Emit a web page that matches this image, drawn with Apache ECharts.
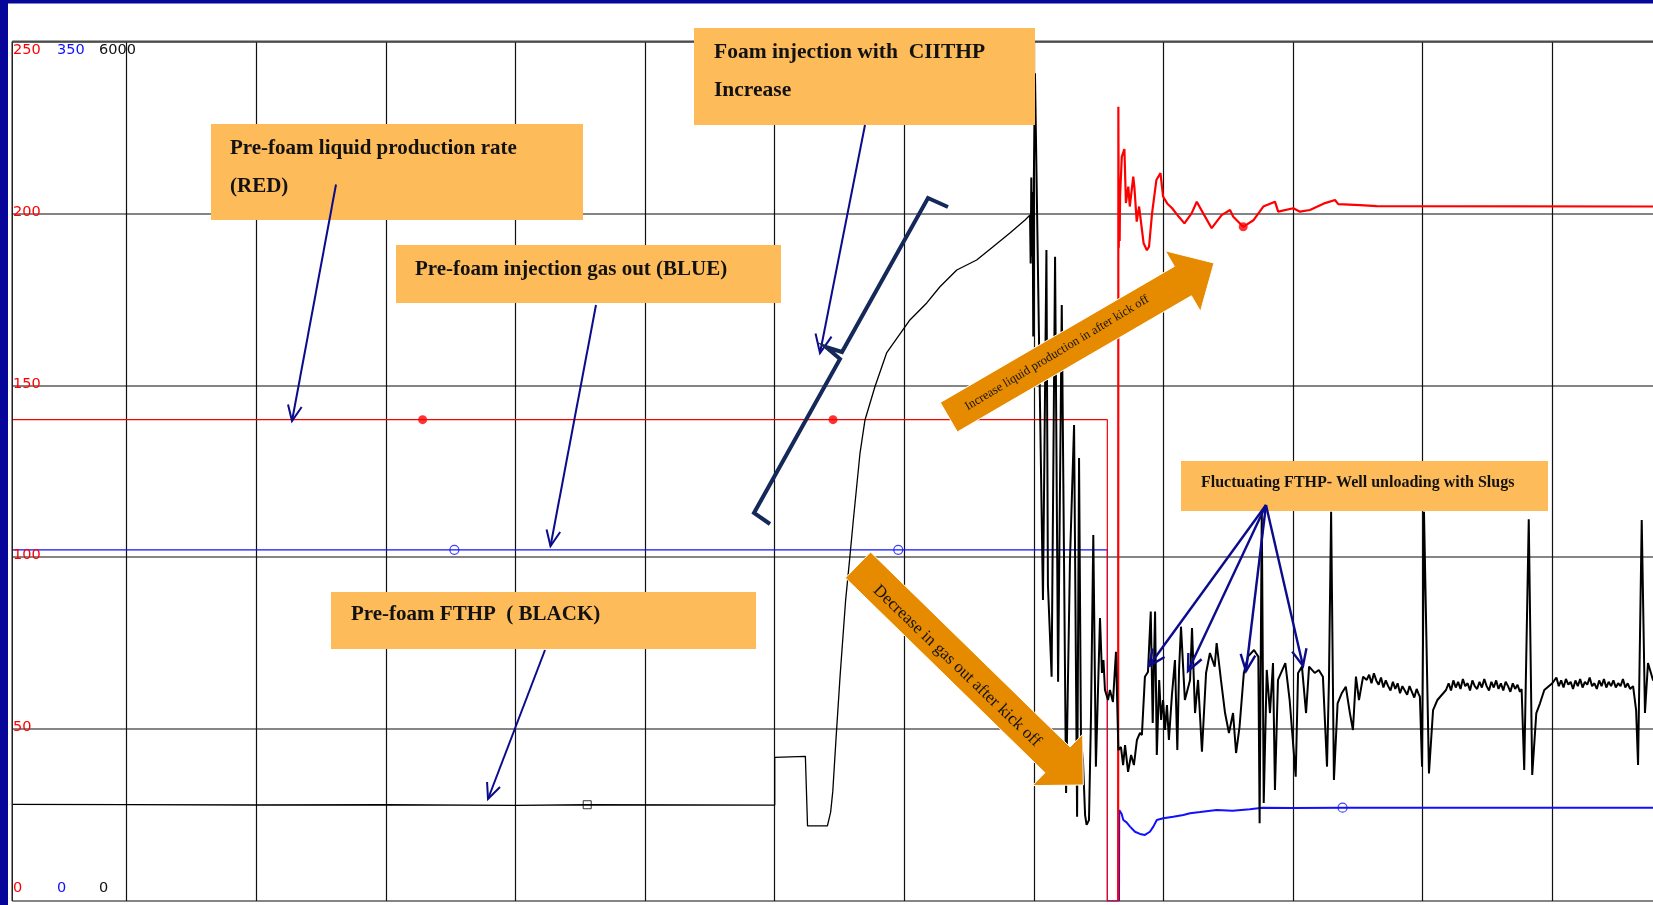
<!DOCTYPE html>
<html>
<head>
<meta charset="utf-8">
<script src="https://cdn.jsdelivr.net/npm/echarts@6/dist/echarts.min.js"></script>
<style>
  html, body { margin: 0; padding: 0; background: #ffffff; overflow: hidden; }
  #chart { width: 1653px; height: 905px; }
</style>
</head>
<body>
<div id="chart"></div>
<script>
// ---- scales (chart-recorder pens) ----
const redTicks = [0, 50, 100, 150, 200, 250];      // liquid rate pen
const blueTicks = [0, 350];                          // gas out pen
const blackTicks = [0, 6000];                        // FTHP pen
const timeMin = 0, timeMax = 780, timeStep = 60;     // minutes, one grid per hour

// ---- liquid production rate (red) ----
const liquidPre = [[7, 140], [197, 140], [387, 140], [514, 140], [514, 0], [519, 0]];
const liquidPost = [
  [519, 0], [519.1, 231], [519.3, 190], [519.5, 209], [519.7, 192], [519.9, 205],
  [520.7, 216.5], [521.9, 218.7], [522.6, 203], [523.7, 207.8], [524.4, 202], [526.0, 210.7],
  [526.5, 207.8], [527.6, 197.6], [528.7, 202], [529.5, 202.4], [530.8, 191.3], [532.3, 189.3],
  [533.3, 190.3], [534.7, 200], [536.7, 209.7], [538.6, 211.7], [539.8, 204.9], [541.7, 202.9],
  [544.0, 201.5], [547.1, 199], [549.7, 197.1], [553.0, 200], [555.4, 203.4], [558.4, 200],
  [562.3, 195.7], [566.9, 199.5], [570.8, 201], [572.3, 199], [576.9, 196.1], [581.6, 198],
  [586.2, 202], [591.6, 203.4], [593.1, 200.5], [600.1, 201.5], [603.2, 200.5], [607.8, 201],
  [614.8, 203], [619.4, 203.9], [620.9, 202.7], [631.0, 202.4], [638.7, 202.1], [780, 202]
];
const liquidMarks = [[197, 140], [387, 140], [576.9, 196.1]];

// ---- injection gas out (blue) ----
const gasPre = [[7, 143], [514, 143], [514, 0], [519.4, 0]];
const gasPost = [
  [519.4, 0], [519.5, 37], [519.9, 37.1], [520.6, 35.5], [521.4, 33], [522.9, 32], [524.5, 30.3],
  [526.8, 28.2], [529.1, 27.3], [531.4, 26.9], [533.7, 28.2], [535.3, 30.3], [536.9, 33],
  [539.9, 33.7], [544.5, 34.3], [549.2, 35], [552.3, 35.7], [557, 36.2], [564.6, 37.1],
  [572, 36.8], [580, 37.4], [585.8, 38], [600, 37.9], [622.9, 38], [780, 38]
];
const gasMarks = [[211.7, 143], [417.2, 143], [622.9, 38]];

// ---- flowing tubing head pressure (black) ----
const fthpPre = [
  [7, 675], [60, 673], [120, 670], [180, 672], [240, 668], [273, 672], [320, 670], [360, 669],
  [360, 1002], [374.2, 1010], [375.2, 524], [384.4, 524], [385.9, 620], [386.9, 767], [388.4, 1135],
  [390.3, 1577], [392.8, 2093], [394.7, 2387], [396.4, 2658], [399.5, 3127], [401.8, 3358],
  [406.4, 3590], [411.8, 3826], [422.6, 4056], [430.4, 4175], [436.5, 4288], [444.3, 4405],
  [453.5, 4475], [461.1, 4568], [468.9, 4663], [475.9, 4754], [478.2, 4789]
];
const fthpPost = [
  [478.2, 4789], [478.5, 4450], [478.8, 5050], [479.1, 4500], [479.4, 4950], [479.7, 3940],
  [480.0, 5080], [480.5, 5778], [484.2, 2101], [485.8, 4545], [486.5, 2206], [488.2, 1566],
  [489.8, 4498], [491.2, 1531], [492.9, 4160], [494.9, 754], [496.7, 2380], [498.6, 3323],
  [500.0, 588], [500.9, 3093], [501.8, 1124], [502.7, 984], [503.7, 600], [504.4, 531],
  [505.5, 565], [506.4, 1264], [507.5, 2555], [508.7, 938], [510.6, 1976], [511.5, 1592],
  [512.2, 1682], [512.9, 1473], [514.3, 1403], [515.2, 1473], [516.6, 1389], [518.0, 1740],
  [519.1, 1054], [520.3, 1075], [521.3, 949], [522.2, 1089], [523.6, 901], [525.0, 1019],
  [526.3, 949], [527.7, 1124], [529.1, 1173], [530.0, 1159], [531.4, 1566], [532.8, 1599],
  [534.1, 2020], [535.0, 1243], [536.1, 2020], [536.9, 1019], [538.0, 1543], [538.9, 1264],
  [539.8, 1403], [540.7, 1194], [541.6, 1368], [542.5, 1124], [543.9, 1438], [545.3, 1682],
  [546.4, 1054], [547.2, 1613], [548.1, 1915], [549.9, 1403], [552.3, 1543], [553.2, 1906],
  [554.6, 1312], [556.0, 1543], [557.8, 1042], [559.7, 1592], [561.5, 1731], [563.7, 1636],
  [564.6, 1801], [566.6, 1543], [568.5, 1312], [570.3, 1173], [572.2, 1312], [573.6, 1033],
  [575.2, 1215], [577.2, 1592], [579.1, 1706], [581.9, 1752], [583.9, 1706], [584.5, 542],
  [585.5, 2730], [586.4, 684], [587.8, 1613], [589.3, 1312], [590.7, 1661], [591.6, 775],
  [593.0, 1543], [596.4, 1661], [598.4, 1403], [601.2, 868], [602.3, 1592], [604.1, 1636],
  [606.0, 1312], [607.4, 1636], [610.0, 1592], [611.9, 1613], [613.8, 1566], [615.7, 938],
  [616.6, 1543], [617.6, 2718], [618.9, 845], [620.6, 1380], [622.5, 1450], [624.4, 1496],
  [626.3, 1312], [627.7, 1194], [629.1, 1566], [630.5, 1403], [632.4, 1566], [634.1, 1543],
  [635.2, 1580], [636.3, 1520], [637.4, 1590], [638.5, 1540], [639.6, 1510], [640.7, 1560],
  [641.8, 1490], [642.9, 1540], [644.0, 1500], [645.1, 1470], [646.2, 1530], [647.3, 1480],
  [648.4, 1520], [649.5, 1450], [650.6, 1500], [651.7, 1470], [652.8, 1440], [653.9, 1500],
  [655.0, 1460], [656.1, 1420], [657.2, 1480], [658.0, 1450], [658.7, 1426], [659.7, 938],
  [660.6, 2718], [662.9, 891], [664.8, 1333], [666.8, 1403], [670.8, 1473],
  [672.0, 1520], [673.1, 1470], [674.2, 1540], [675.3, 1490], [676.4, 1530], [677.5, 1480],
  [678.6, 1550], [679.7, 1500], [680.8, 1520], [681.9, 1470], [683.0, 1540], [684.1, 1500],
  [685.2, 1480], [686.3, 1530], [687.4, 1490], [688.5, 1550], [689.6, 1500], [690.7, 1470],
  [691.8, 1530], [692.9, 1490], [694.0, 1540], [695.1, 1480], [696.2, 1520], [697.3, 1470],
  [698.4, 1530], [699.5, 1500], [700.6, 1460], [701.7, 1520], [702.8, 1480], [703.9, 1510],
  [705.0, 1460], [705.8, 1480], [707.0, 914], [709.1, 2665], [710.7, 880], [712.6, 1312],
  [714.3, 1380], [716.3, 1473], [720.0, 1520],
  [721.9, 1560], [723.0, 1500], [724.1, 1540], [725.2, 1490], [726.3, 1550], [727.4, 1510],
  [728.5, 1530], [729.6, 1480], [730.7, 1540], [731.8, 1500], [732.9, 1550], [734.0, 1490],
  [735.1, 1530], [736.2, 1510], [737.3, 1560], [738.4, 1500], [739.5, 1520], [740.6, 1480],
  [741.7, 1540], [742.8, 1500], [743.9, 1550], [745.0, 1490], [746.1, 1530], [747.2, 1500],
  [748.3, 1540], [749.4, 1490], [750.5, 1520], [751.6, 1500], [752.7, 1550], [753.8, 1490],
  [754.9, 1520], [756.0, 1480], [757.4, 1500], [758.8, 1333], [759.7, 949], [761.4, 2660],
  [762.9, 1312], [764.3, 1661], [766.6, 1543], [770, 1510]
];
const fthpMarks = [[273.2, 672]];

// ---- annotation texts ----
const notes = {
  liquid: ['Pre-foam liquid production rate', '(RED)'],
  gas: 'Pre-foam injection gas out (BLUE)',
  fthp: 'Pre-foam FTHP  ( BLACK)',
  foam: ['Foam injection with  CIITHP', 'Increase'],
  slugs: 'Fluctuating FTHP- Well unloading with Slugs',
  up: 'Increase liquid production in after kick off',
  down: 'Decrease in gas out after kick off'
};

const RED = '#ff0000', BLUE = '#1010ff', BLACK = '#000000';
const NAVY = '#0b0b8c', BOX = '#fdbb5a', ARROW = '#e68a00';
const SERIF = '"Liberation Serif", "DejaVu Serif", serif';

const chart = echarts.init(document.getElementById('chart'), null, { renderer: 'canvas' });

const lineSeries = (name, data, axis, color, width, z) => ({
  type: 'line', name, data, yAxisIndex: axis, showSymbol: false, z,
  lineStyle: { color, width }, itemStyle: { color }, silent: true
});

chart.setOption({
  animation: false,
  backgroundColor: '#ffffff',
  // the recorder paper runs past the right edge of the view
  grid: { left: -2.9, top: 41.5, width: 1684.8, height: 859.5, containLabel: false, outerBoundsMode: 'none' },
  xAxis: {
    type: 'value', min: timeMin, max: timeMax, interval: timeStep,
    axisLine: { show: false }, axisTick: { show: false }, axisLabel: { show: false },
    splitLine: { show: true, lineStyle: { color: '#111111', width: 1.2 } }
  },
  yAxis: [
    {
      type: 'value', min: redTicks[0], max: redTicks[redTicks.length - 1], interval: redTicks[1] - redTicks[0],
      axisLine: { show: false }, axisTick: { show: false }, axisLabel: { show: false },
      splitLine: { show: true, lineStyle: { color: '#5c5c5c', width: 1.6 } }
    },
    { type: 'value', min: blueTicks[0], max: blueTicks[1], interval: blueTicks[1], show: false },
    { type: 'value', min: blackTicks[0], max: blackTicks[1], interval: blackTicks[1], show: false }
  ],
  series: [
    lineSeries('Gas out', gasPre, 1, BLUE, 1.2, 3),
    lineSeries('Gas out after kick off', gasPost, 1, BLUE, 2, 3),
    lineSeries('Liquid rate', liquidPre, 0, RED, 1.2, 4),
    lineSeries('Liquid rate after kick off', liquidPost, 0, RED, 2.2, 4),
    lineSeries('FTHP', fthpPre, 2, BLACK, 1.3, 5),
    lineSeries('FTHP after kick off', fthpPost, 2, BLACK, 2, 5),
    { type: 'scatter', data: liquidMarks, yAxisIndex: 0, symbol: 'circle', symbolSize: 9, z: 6,
      itemStyle: { color: RED }, silent: true },
    { type: 'scatter', data: gasMarks, yAxisIndex: 1, symbol: 'circle', symbolSize: 9, z: 6,
      itemStyle: { color: 'rgba(255,255,255,0)', borderColor: BLUE, borderWidth: 1.2 }, silent: true },
    { type: 'scatter', data: fthpMarks, yAxisIndex: 2, symbol: 'rect', symbolSize: 8, z: 6,
      itemStyle: { color: 'rgba(255,255,255,0)', borderColor: BLACK, borderWidth: 1 }, silent: true }
  ]
});

// ---- frame, pen scale labels and annotations ----
const px = v => chart.convertToPixel({ xAxisIndex: 0 }, v);
const py = v => chart.convertToPixel({ yAxisIndex: 0 }, v);
const frameX = px(fthpPre[0][0]);
const topY = py(redTicks[redTicks.length - 1]);
const botY = py(redTicks[0]);

function label(text, x, y, color) {
  return { type: 'text', x, y, z: 100,
    style: { text: String(text), fill: color, font: '14.5px "DejaVu Sans"',
      align: 'left', verticalAlign: 'middle', textAlign: 'left', textVerticalAlign: 'middle' } };
}
function boxText(text, x, y, size) {
  return { type: 'text', x, y, z: 102,
    style: { text, fill: '#121212', font: `bold ${size}px ${SERIF}`,
      align: 'left', verticalAlign: 'middle', textAlign: 'left', textVerticalAlign: 'middle' } };
}
function box(x, y, w, h) {
  return { type: 'rect', z: 101, shape: { x, y, width: w, height: h }, style: { fill: BOX } };
}
function pointer(x1, y1, x2, y2, w, head) {
  const a = Math.atan2(y2 - y1, x2 - x1);
  const b1 = a + Math.PI - 0.42, b2 = a + Math.PI + 0.42;
  return [
    { type: 'polyline', z: 104, shape: { points: [[x1, y1], [x2, y2]] },
      style: { stroke: NAVY, lineWidth: w, fill: null } },
    { type: 'polyline', z: 104,
      shape: { points: [[x2 + head * Math.cos(b1), y2 + head * Math.sin(b1)], [x2, y2],
                        [x2 + head * Math.cos(b2), y2 + head * Math.sin(b2)]] },
      style: { stroke: NAVY, lineWidth: w, fill: null, lineJoin: 'miter' } }
  ];
}
function blockArrow(tx, ty, hx, hy, shaftW, headW, headL) {
  const dx = hx - tx, dy = hy - ty, L = Math.hypot(dx, dy);
  const ux = dx / L, uy = dy / L, nx = -uy, ny = ux;
  const p = (s, t) => [tx + ux * s + nx * t, ty + uy * s + ny * t];
  const b = L - headL;
  return { type: 'polygon', z: 103,
    shape: { points: [p(0, -shaftW / 2), p(b, -shaftW / 2), p(b, -headW / 2), p(L, 0),
                      p(b, headW / 2), p(b, shaftW / 2), p(0, shaftW / 2)] },
    style: { fill: ARROW, stroke: '#ffffff', lineWidth: 1 } };
}
// angleDeg is the on-screen direction of the text baseline (positive = downwards)
function slantText(text, cx, cy, angleDeg, size) {
  return { type: 'text', x: cx, y: cy, rotation: -angleDeg * Math.PI / 180, z: 104,
    style: { text, fill: '#141414', font: `${size}px ${SERIF}`,
      align: 'center', verticalAlign: 'middle', textAlign: 'center', textVerticalAlign: 'middle' } };
}

const g = [];
// margin outside the recorder frame
g.push({ type: 'rect', z: 99, shape: { x: 0, y: 0, width: frameX, height: 905 }, style: { fill: '#ffffff' } });
g.push({ type: 'rect', z: 99, shape: { x: 0, y: 0, width: 1653, height: topY - 1 }, style: { fill: '#ffffff' } });
g.push({ type: 'rect', z: 100, shape: { x: 0, y: 0, width: 8, height: 905 }, style: { fill: '#06069a' } });
g.push({ type: 'rect', z: 100, shape: { x: 0, y: 0, width: 1653, height: 3.4 }, style: { fill: '#06069a' } });
g.push({ type: 'line', z: 100, shape: { x1: frameX, y1: topY, x2: frameX, y2: botY },
  style: { stroke: '#111111', lineWidth: 1.4 } });
g.push({ type: 'line', z: 100, shape: { x1: frameX, y1: topY, x2: 1653, y2: topY },
  style: { stroke: '#4a4a4a', lineWidth: 1.8 } });

// pen range labels at the top and bottom of the chart, red scale on each grid line
g.push(label(redTicks[redTicks.length - 1], 13, topY + 9, RED));
g.push(label(blueTicks[1], 57, topY + 9, BLUE));
g.push(label(blackTicks[1], 99, topY + 9, '#111111'));
g.push(label(redTicks[0], 13, botY - 12.5, RED));
g.push(label(blueTicks[0], 57, botY - 12.5, BLUE));
g.push(label(blackTicks[0], 99, botY - 12.5, '#111111'));
redTicks.slice(1, -1).forEach(v => g.push(label(v, 13, py(v) - 1.5, RED)));

// callout boxes
g.push(box(211, 124, 372, 96));
g.push(boxText(notes.liquid[0], 230, 148.5, 21));
g.push(boxText(notes.liquid[1], 230, 186.5, 21));
g.push(box(396, 245, 385, 58));
g.push(boxText(notes.gas, 415, 270, 21));
g.push(box(331, 592, 425, 57));
g.push(boxText(notes.fthp, 351, 615, 21));
g.push(box(694, 28, 341, 97));
g.push(boxText(notes.foam[0], 714, 52, 21.5));
g.push(boxText(notes.foam[1], 714, 90.5, 21.5));
g.push(box(1181, 461, 367, 50));
g.push(boxText(notes.slugs, 1201, 483, 16));

// block arrows across the kick-off
g.push(blockArrow(948.8, 417.2, 1214, 263, 34, 70, 36));
g.push(slantText(notes.up, 1057, 353, -31, 12.5));
g.push(blockArrow(858, 565, 1083.3, 785, 36, 72, 36));
g.push(slantText(notes.down, 957, 666, 43.8, 17));

// pointers from the callouts
g.push(...pointer(336, 184.5, 292, 421, 2, 17));
g.push(...pointer(596, 305, 550.5, 546, 2, 17));
g.push(...pointer(545, 650, 488, 799, 2, 17));
g.push(...pointer(865, 125, 820, 353, 2, 20));
[[1149, 666], [1188, 671], [1246, 671], [1303, 666]].forEach(t => g.push(...pointer(1266, 505, t[0], t[1], 2.4, 18)));

// bracket over the foam injection ramp
g.push({ type: 'polyline', z: 104,
  shape: { points: [[948, 207], [928, 198], [842, 352], [826, 347], [840, 359], [754, 513], [770, 524]] },
  style: { stroke: '#14295a', lineWidth: 4, fill: null, lineJoin: 'miter' } });

chart.setOption({ graphic: { elements: g } });
</script>
</body>
</html>
